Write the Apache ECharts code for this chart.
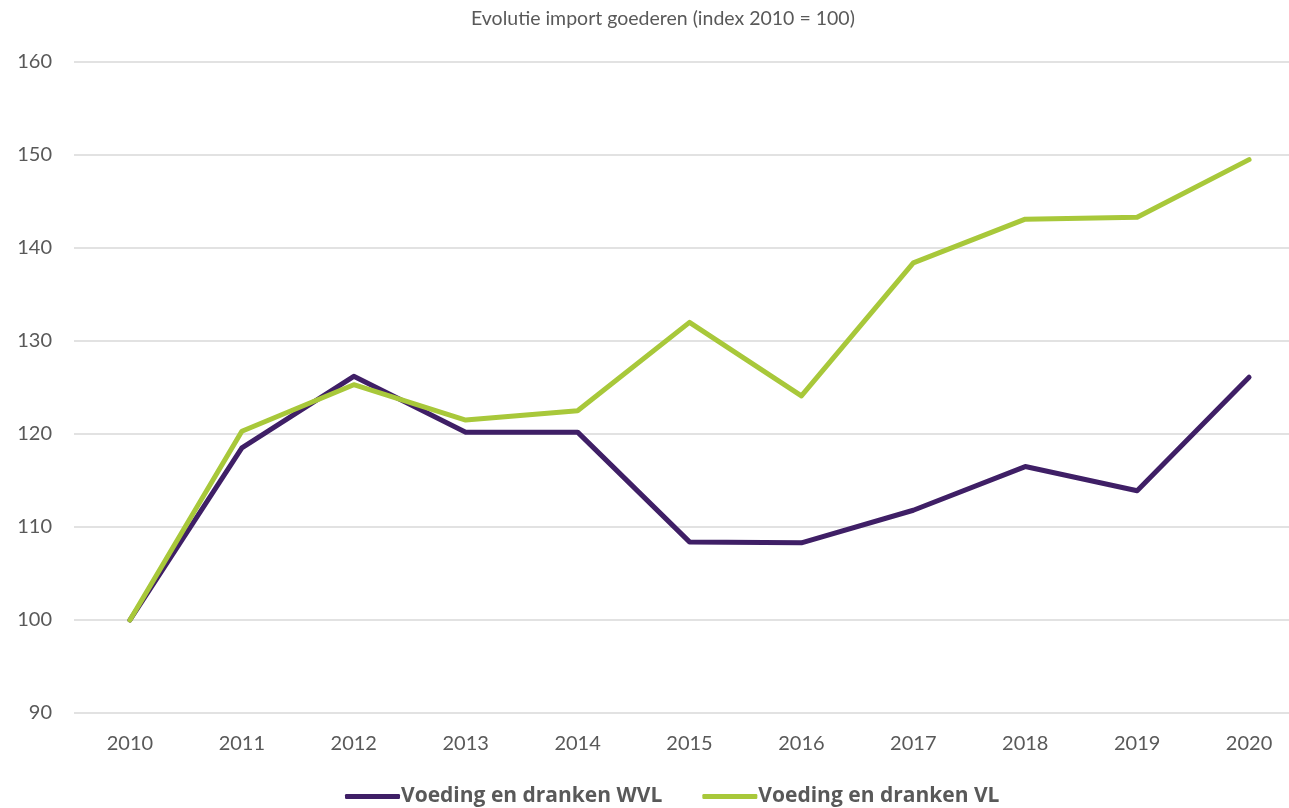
<!DOCTYPE html>
<html>
<head>
<meta charset="utf-8">
<script src="https://cdn.jsdelivr.net/npm/echarts@6/dist/echarts.min.js"></script>
<style>
  html, body { margin: 0; padding: 0; background: #ffffff; overflow: hidden; }
  #chart { width: 1305px; height: 808px; }
</style>
</head>
<body>
<div id="chart"></div>
<script>
// Import index of goods, 2010 = 100
const years = ['2010', '2011', '2012', '2013', '2014', '2015', '2016', '2017', '2018', '2019', '2020'];
const wvl = [100, 118.5, 126.2, 120.2, 120.2, 108.4, 108.3, 111.8, 116.5, 113.9, 126.1];
const vl = [100, 120.3, 125.3, 121.5, 122.5, 132.0, 124.1, 138.4, 143.1, 143.3, 149.5];
const seriesNames = ['Voeding en dranken WVL', 'Voeding en dranken VL'];
const colors = ['#3f1f66', '#a8c83a'];

const fontFamily = 'Lato, "Open Sans", sans-serif';
const chart = echarts.init(document.getElementById('chart'), null, { renderer: 'canvas' });

chart.setOption({
  animation: false,
  backgroundColor: '#ffffff',
  title: {
    text: 'Evolutie import goederen (index 2010 = 100)',
    left: 466,
    top: 4,
    textStyle: { fontFamily, fontSize: 19.5, fontWeight: 'normal', color: '#595959' }
  },
  legend: {
    bottom: -4,
    left: 340,
    icon: 'roundRect',
    itemWidth: 55,
    itemHeight: 5,
    itemGap: 40,
    data: seriesNames,
    textStyle: { fontFamily: '"Open Sans", sans-serif', fontSize: 21, fontWeight: 'bold', color: '#595959', padding: [0, 0, 0, -4] }
  },
  grid: { left: 74, right: 0, top: 62, bottom: 95, containLabel: false },
  xAxis: {
    type: 'category',
    data: years,
    boundaryGap: true,
    axisLine: { show: false },
    axisTick: { show: false },
    axisLabel: { fontFamily, fontSize: 20, color: '#595959', margin: 21 }
  },
  yAxis: {
    type: 'value',
    min: 90,
    max: 160,
    interval: 10,
    axisLine: { show: false },
    axisTick: { show: false },
    splitLine: { lineStyle: { color: '#d9d9d9', width: 1.5 } },
    axisLabel: { fontFamily, fontSize: 20, color: '#595959', margin: 22 }
  },
  series: [
    {
      name: seriesNames[0],
      type: 'line',
      data: wvl,
      symbol: 'none',
      color: colors[0],
      lineStyle: { width: 5, color: colors[0], cap: 'round', join: 'round' }
    },
    {
      name: seriesNames[1],
      type: 'line',
      data: vl,
      symbol: 'none',
      color: colors[1],
      lineStyle: { width: 5, color: colors[1], cap: 'round', join: 'round' }
    }
  ]
});
</script>
</body>
</html>
